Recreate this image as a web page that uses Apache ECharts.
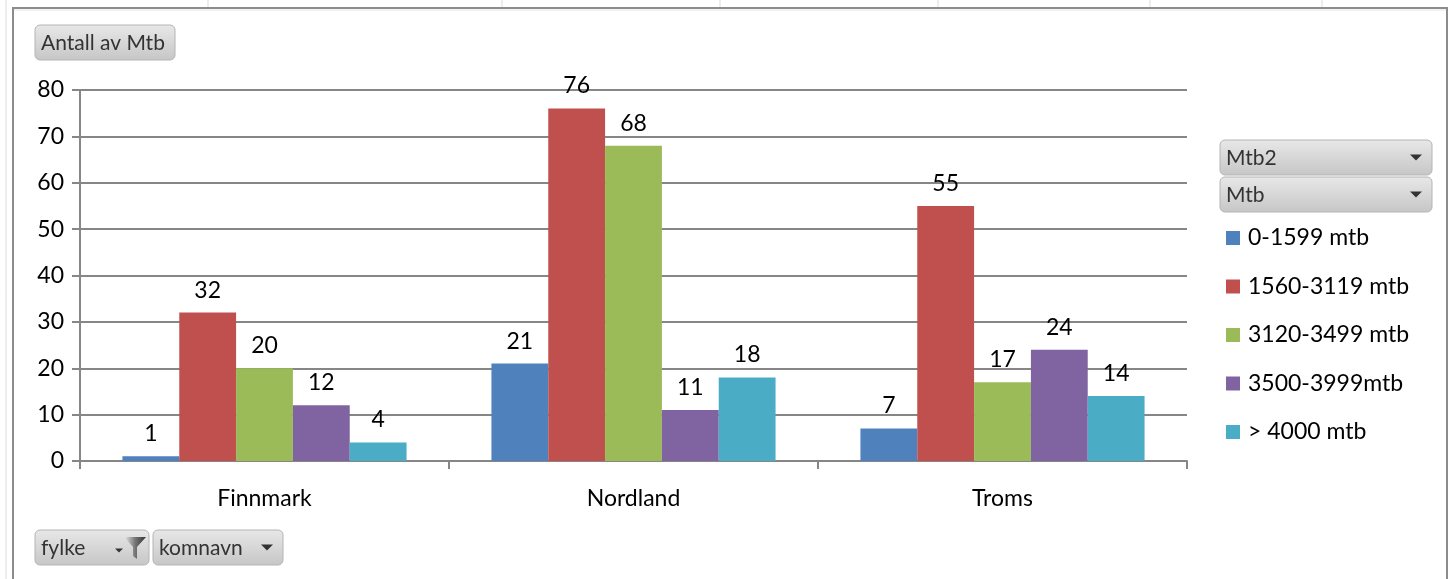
<!DOCTYPE html>
<html><head><meta charset="utf-8">
<script src="https://cdn.jsdelivr.net/npm/echarts@6/dist/echarts.min.js"></script>
<style>html,body{margin:0;padding:0;background:#fff}#c{width:1449px;height:579px}</style>
</head><body><div id="c"></div>
<script>
const categories = ['Finnmark', 'Nordland', 'Troms'];
const seriesNames = ['0-1599 mtb', '1560-3119 mtb', '3120-3499 mtb', '3500-3999mtb', '> 4000 mtb'];
const s0 = [1, 21, 7];
const s1 = [32, 76, 55];
const s2 = [20, 68, 17];
const s3 = [12, 11, 24];
const s4 = [4, 18, 14];
const colors = ['#4F81BD', '#C0504D', '#9BBB59', '#8064A2', '#4BACC6'];
const yTicks = [0, 10, 20, 30, 40, 50, 60, 70, 80];

const FONT = 'Lato, "Liberation Sans", sans-serif';
const FS = 23;
const chart = echarts.init(document.getElementById('c'), null, {renderer: 'canvas'});

function button(x, y, w, h, text, arrow, funnel) {
  const els = [{
    type: 'rect', shape: {x: x, y: y, width: w, height: h, r: 5},
    style: {fill: new echarts.graphic.LinearGradient(0, 0, 0, 1, [{offset: 0, color: '#e8e8e8'}, {offset: 1, color: '#c6c6c6'}]), stroke: '#b4b4b4', lineWidth: 1}
  }, {
    type: 'text', x: x + 6, y: y + h / 2 + 1,
    style: {text: text, font: '21px ' + FONT, fill: '#333', verticalAlign: 'middle'}
  }];
  if (arrow) {
    els.push({type: 'polygon', shape: {points: [[x + w - 22, y + h / 2 - 3], [x + w - 10, y + h / 2 - 3], [x + w - 16, y + h / 2 + 3]]}, style: {fill: '#333'}});
  }
  if (funnel) {
    els.push({type: 'polygon', shape: {points: [[x + w - 34, y + h / 2 + 1], [x + w - 26, y + h / 2 + 1], [x + w - 30, y + h / 2 + 5]]}, style: {fill: '#333'}});
    els.push({type: 'polygon', shape: {points: [[x + w - 25, y + 7], [x + w - 3, y + 7], [x + w - 12, y + 17], [x + w - 12, y + h - 6], [x + w - 16, y + h - 9], [x + w - 16, y + 17]]},
      style: {fill: new echarts.graphic.LinearGradient(0, 0, 1, 0, [{offset: 0, color: '#eeeeee'}, {offset: 0.5, color: '#777'}, {offset: 1, color: '#333'}])}});
  }
  return els;
}

const graphics = [
  {type: 'line', shape: {x1: 6, y1: 0, x2: 6, y2: 579}, style: {stroke: '#dcdcdc', lineWidth: 1}},
  {type: 'line', shape: {x1: 208, y1: 0, x2: 208, y2: 7}, style: {stroke: '#dcdcdc', lineWidth: 1}},
  {type: 'line', shape: {x1: 502, y1: 0, x2: 502, y2: 7}, style: {stroke: '#dcdcdc', lineWidth: 1}},
  {type: 'line', shape: {x1: 720, y1: 0, x2: 720, y2: 7}, style: {stroke: '#dcdcdc', lineWidth: 1}},
  {type: 'line', shape: {x1: 938, y1: 0, x2: 938, y2: 7}, style: {stroke: '#dcdcdc', lineWidth: 1}},
  {type: 'line', shape: {x1: 1150, y1: 0, x2: 1150, y2: 7}, style: {stroke: '#dcdcdc', lineWidth: 1}},
  {type: 'line', shape: {x1: 1322, y1: 0, x2: 1322, y2: 7}, style: {stroke: '#dcdcdc', lineWidth: 1}},
  {type: 'polyline', shape: {points: [[13, 590], [13, 8], [1447, 8], [1447, 590]]}, style: {stroke: '#8c8c8c', lineWidth: 2, fill: null}},
  {type: 'line', shape: {x1: 14, y1: 10, x2: 1446, y2: 10}, style: {stroke: '#e4e4e4', lineWidth: 1}}
].concat(
  button(35, 25, 140, 35, 'Antall av Mtb', false, false),
  button(1220, 140, 212, 35, 'Mtb2', true, false),
  button(1220, 177, 212, 35, 'Mtb', true, false),
  button(35, 530, 114, 35, 'fylke', false, true),
  button(153, 530, 130, 35, 'komnavn', true, false)
);

const data = [s0, s1, s2, s3, s4];
chart.setOption({
  animation: false,
  textStyle: {fontFamily: FONT},
  color: colors,
  grid: {left: 80, right: 262, top: 90, bottom: 118, containLabel: false},
  legend: {
    orient: 'vertical', left: 1226, top: 226, itemWidth: 14, itemHeight: 14, itemGap: 24.5,
    icon: 'rect', data: seriesNames, padding: 0,
    textStyle: {fontSize: FS, lineHeight: 24, color: '#000', fontFamily: FONT, padding: [0, 0, 0, 3]}
  },
  xAxis: {
    type: 'category', data: categories,
    axisLine: {lineStyle: {color: '#868686', width: 2}},
    axisTick: {show: true, length: 8, lineStyle: {color: '#868686', width: 2}, alignWithLabel: false},
    axisLabel: {fontSize: FS, color: '#000', margin: 26, fontFamily: FONT}
  },
  yAxis: {
    type: 'value', min: 0, max: 80, interval: 10,
    axisLine: {show: true, lineStyle: {color: '#868686', width: 2}},
    axisTick: {show: true, length: 8, lineStyle: {color: '#868686', width: 2}},
    splitLine: {lineStyle: {color: '#868686', width: 2}},
    axisLabel: {fontSize: FS, color: '#000', margin: 16, fontFamily: FONT,
      formatter: function (v) { return yTicks.indexOf(v) >= 0 ? String(v) : ''; }}
  },
  series: seriesNames.map(function (n, i) {
    return {
      name: n, type: 'bar', data: data[i], barGap: '0%', barCategoryGap: '23%',
      itemStyle: {color: colors[i]},
      label: {show: true, position: 'top', distance: 11, fontSize: FS, color: '#000', fontFamily: FONT}
    };
  }),
  graphic: graphics
});
</script></body></html>
